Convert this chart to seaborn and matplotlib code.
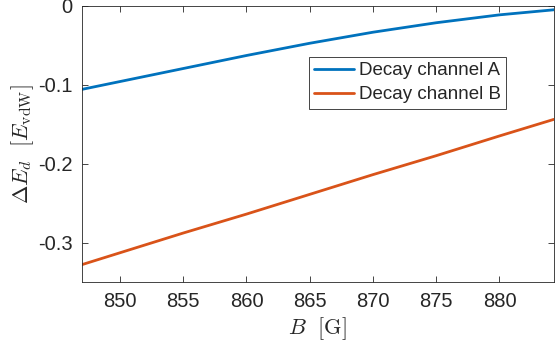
import numpy as np
import pandas as pd
import matplotlib
matplotlib.use("Agg")
import matplotlib.pyplot as plt
import seaborn as sns

sns.set_style("ticks")
plt.rcParams['font.family'] = ['Liberation Sans', 'DejaVu Sans']
plt.rcParams['mathtext.fontset'] = 'cm'

# values
field_B = [847, 850, 855, 860, 865, 870, 875, 880, 884.3]
dE_A = [-0.106, -0.0961, -0.0796, -0.0631, -0.0476, -0.0336, -0.0216, -0.0116, -0.0052]
dE_B = [-0.328, -0.313, -0.288, -0.264, -0.239, -0.214, -0.190, -0.165, -0.144]
channels = ["Decay channel A", "Decay channel B"]
pal = ["#0072BD", "#D95319"]

rows = []
for B, a in zip(field_B, dE_A):
    rows.append([B, a, channels[0]])
for B, b in zip(field_B, dE_B):
    rows.append([B, b, channels[1]])
df = pd.DataFrame(rows, columns=["B", "dE", "Channel"])

fig = plt.figure(figsize=(5.55, 3.49), dpi=100)
ax = fig.add_axes([0.1477, 0.192, 0.8503, 0.7917])
sns.lineplot(data=df, x="B", y="dE", hue="Channel", palette=pal, linewidth=2, ax=ax)

ax.set_xlim(847, 884.3)
ax.set_ylim(-0.35, 0)
ax.set_xticks([850, 855, 860, 865, 870, 875, 880])
ax.set_yticks([-0.3, -0.2, -0.1, 0])
ax.set_yticklabels(["-0.3", "-0.2", "-0.1", "0"])
ax.tick_params(direction='in', length=4.5, width=0.6, colors='#262626', labelsize=14.5,
               top=True, right=True, pad=7)
for s in ax.spines.values():
    s.set_linewidth(0.6)
    s.set_color('#262626')
    s.set_visible(True)

ax.set_xlabel(r"$B\ \ [\mathrm{G}]$", fontsize=16, labelpad=3)
ax.set_ylabel(r"$\Delta E_d\ \ [E_{\mathrm{vdW}}]$", fontsize=16, labelpad=1)

leg = ax.legend(loc='upper left', bbox_to_anchor=(0.481, 0.814), borderaxespad=0,
                fontsize=13.5, frameon=True, fancybox=False, handlelength=2.1,
                handletextpad=0.3, borderpad=0.28, labelspacing=0.36)
leg.get_frame().set_edgecolor('#262626')
leg.get_frame().set_linewidth(0.6)
leg.get_frame().set_alpha(1)

fig.savefig("out.png", dpi=100)
